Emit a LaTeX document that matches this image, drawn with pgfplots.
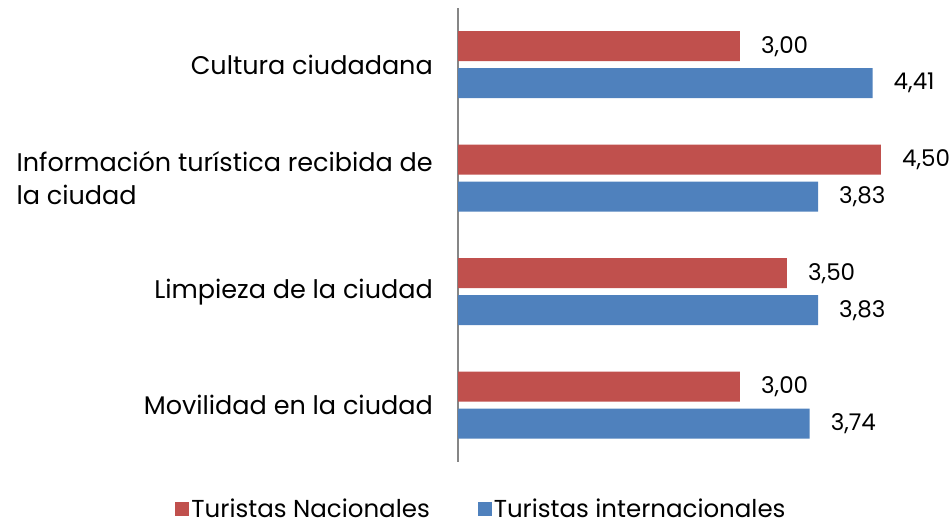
\documentclass[border=0pt]{standalone}
\usepackage{fontspec}
\setmainfont{Poppins}
\usepackage{pgfplots}
\pgfplotsset{compat=1.18}
\definecolor{cred}{HTML}{C0504D}
\definecolor{cblue}{HTML}{4F81BD}
\definecolor{axgray}{HTML}{868686}
\begin{document}
\begin{tikzpicture}
\useasboundingbox (0,0) rectangle (951bp,527bp);
\begin{axis}[
  at={(458bp,65bp)}, anchor=south west,
  scale only axis,
  width=470bp, height=454bp,
  xmin=0, xmax=5,
  ymin=-0.5, ymax=3.5,
  xbar, bar width=30bp,
  axis x line=none,
  axis y line=left,
  axis line style={-, draw=axgray, line width=1.5bp},
  ytick={0,1,2,3},
  yticklabels={Movilidad en la ciudad, Limpieza de la ciudad, {Información turística recibida de\\la ciudad}, Cultura ciudadana},
  yticklabel style={align=left, anchor=east, inner sep=0pt, font=\fontsize{25.5bp}{33bp}\selectfont, xshift=-25bp},
  major tick length=0pt,
  nodes near coords,
  nodes near coords style={anchor=west, inner sep=0pt, xshift=21bp, font=\fontsize{23bp}{27bp}\selectfont, text=black},
  /pgf/number format/.cd, fixed, fixed zerofill, precision=2, use comma, assume math mode=true,
  /pgfplots/.cd,
  legend columns=2,
  legend style={draw=none, at={(0.05,-0.104)}, anchor=center, font=\fontsize{24.5bp}{27bp}\selectfont,
    /tikz/every even column/.append style={column sep=46bp}},
  legend image code/.code={\fill[#1] (0bp,-7bp) rectangle (14bp,7bp);},
]
\addplot[fill=cred, draw=none, bar shift=18.5bp] coordinates {(3.00,0) (3.50,1) (4.50,2) (3.00,3)};
\addplot[fill=cblue, draw=none, bar shift=-18.5bp] coordinates {(3.74,0) (3.83,1) (3.83,2) (4.41,3)};
\legend{Turistas Nacionales, Turistas internacionales}
\end{axis}
\end{tikzpicture}
\end{document}
